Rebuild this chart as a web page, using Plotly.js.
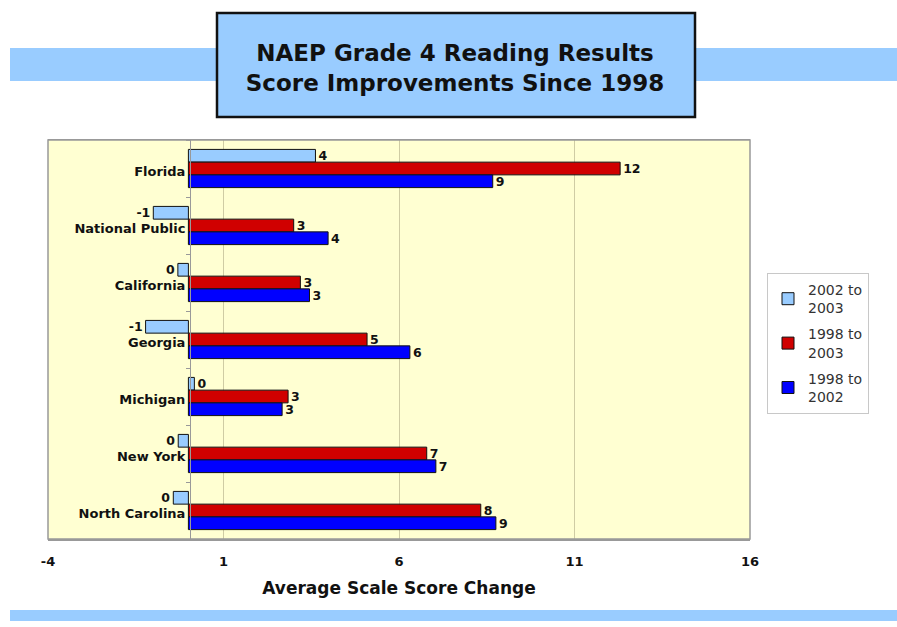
<!DOCTYPE html>
<html>
<head>
<meta charset="utf-8">
<script src="https://cdn.plot.ly/plotly-3.0.1.min.js"></script>
<style>html,body{margin:0;padding:0;background:#fff;}#chart{width:897px;height:627px;}</style>
</head>
<body>
<div id="chart"></div>
<script>
var states = ["Florida", "National Public", "California", "Georgia", "Michigan", "New York", "North Carolina"];
var change2002to2003 = [3.62, -1.0, -0.3, -1.22, 0.17, -0.29, -0.43];
var change1998to2003 = [12.3, 3.0, 3.19, 5.09, 2.84, 6.79, 8.33];
var change1998to2002 = [8.67, 3.98, 3.45, 6.31, 2.67, 7.05, 8.76];
var seriesNames = ["2002 to<br>2003", "1998 to<br>2003", "1998 to<br>2002"];
var xTicks = [-4, 1, 6, 11, 16];

function roundLabels(arr) {
  return arr.map(function (v) { var r = Math.round(v); return String(r === 0 ? 0 : r); });
}

var FONT = "DejaVu Sans, Verdana, sans-serif";
var colors = ["#99ccff", "#d00000", "#0000ff"];
var series = [change2002to2003, change1998to2003, change1998to2002];

var traces = series.map(function (vals, i) {
  return {
    type: "bar",
    orientation: "h",
    name: seriesNames[i],
    legendgroup: "g" + i,
    y: states,
    x: vals,
    text: roundLabels(vals),
    textposition: "outside",
    constraintext: "none",
    cliponaxis: false,
    textfont: {family: FONT, size: 12.5, color: "#111", weight: "bold"},
    marker: {color: colors[i], line: {color: "#111", width: 1}},
    hoverinfo: "skip"
  };
});

// plot area in pixels: left 48, right 750, top 140, bottom 539
var L = 48, R = 750, T = 140, B = 539;
function px(p) { return (p - L) / (R - L); }
function py(q) { return (B - q) / (B - T); }

var layout = {
  width: 897,
  height: 627,
  margin: {l: L, r: 897 - R, t: T, b: 627 - B},
  paper_bgcolor: "#ffffff",
  plot_bgcolor: "#ffffd2",
  font: {family: FONT, color: "#111"},
  barmode: "group",
  bargap: 0.33,
  bargroupgap: 0,
  showlegend: true,
  title: {
    text: "NAEP Grade 4 Reading Results<br>Score Improvements Since 1998",
    font: {family: FONT, size: 23, color: "#111", weight: "bold"},
    x: 455 / 897, xanchor: "center", xref: "container",
    y: 1 - 61 / 627, yanchor: "middle", yref: "container"
  },
  xaxis: {
    range: [-4, 16],
    tickvals: xTicks,
    ticktext: xTicks.map(String),
    showgrid: true,
    gridcolor: "#cfcca4",
    gridwidth: 1,
    zeroline: false,
    showline: true,
    linecolor: "#999999",
    linewidth: 1.5,
    mirror: true,
    ticks: "outside",
    ticklen: 10,
    tickcolor: "rgba(0,0,0,0)",
    tickfont: {family: FONT, size: 13, color: "#111", weight: "bold"},
    title: {text: "Average Scale Score Change", font: {family: FONT, size: 17, color: "#111", weight: "bold"}, standoff: 14},
    fixedrange: true
  },
  yaxis: {
    type: "category",
    autorange: "reversed",
    anchor: "free",
    position: (190 - L) / (R - L),
    showline: true,
    linecolor: "#999999",
    linewidth: 1,
    showgrid: false,
    zeroline: false,
    ticks: "outside",
    tickson: "boundaries",
    ticklen: 4,
    tickcolor: "#999999",
    ticklabelstandoff: 2,
    ticklabelshift: -3,
    tickfont: {family: FONT, size: 13, color: "#111", weight: "bold"},
    fixedrange: true
  },
  legend: {
    x: px(767), xanchor: "left",
    y: py(273), yanchor: "top",
    bgcolor: "#ffffff",
    bordercolor: "#c8c8c8",
    borderwidth: 1,
    traceorder: "grouped",
    tracegroupgap: 5,
    font: {family: FONT, size: 14, color: "#333"},
    itemwidth: 30
  },
  shapes: [
    // plot border
    {type: "rect", xref: "paper", yref: "paper", x0: 0, x1: 1, y0: 0, y1: 1, line: {color: "#999999", width: 1.5}, layer: "above"},
    // decorative bands
    {type: "rect", xref: "paper", yref: "paper", x0: px(10), x1: px(216), y0: py(81), y1: py(48), fillcolor: "#99ccff", line: {width: 0}},
    {type: "rect", xref: "paper", yref: "paper", x0: px(695), x1: px(897), y0: py(81), y1: py(48), fillcolor: "#99ccff", line: {width: 0}},
    {type: "rect", xref: "paper", yref: "paper", x0: px(10), x1: px(897), y0: py(621), y1: py(610), fillcolor: "#99ccff", line: {width: 0}},
    // title box
    {type: "rect", xref: "paper", yref: "paper", x0: px(217), x1: px(695), y0: py(117), y1: py(13), fillcolor: "#99ccff", line: {color: "#111", width: 2.5}}
  ]
};

Plotly.newPlot("chart", traces, layout, {staticPlot: true, displayModeBar: false});
</script>
</body>
</html>
